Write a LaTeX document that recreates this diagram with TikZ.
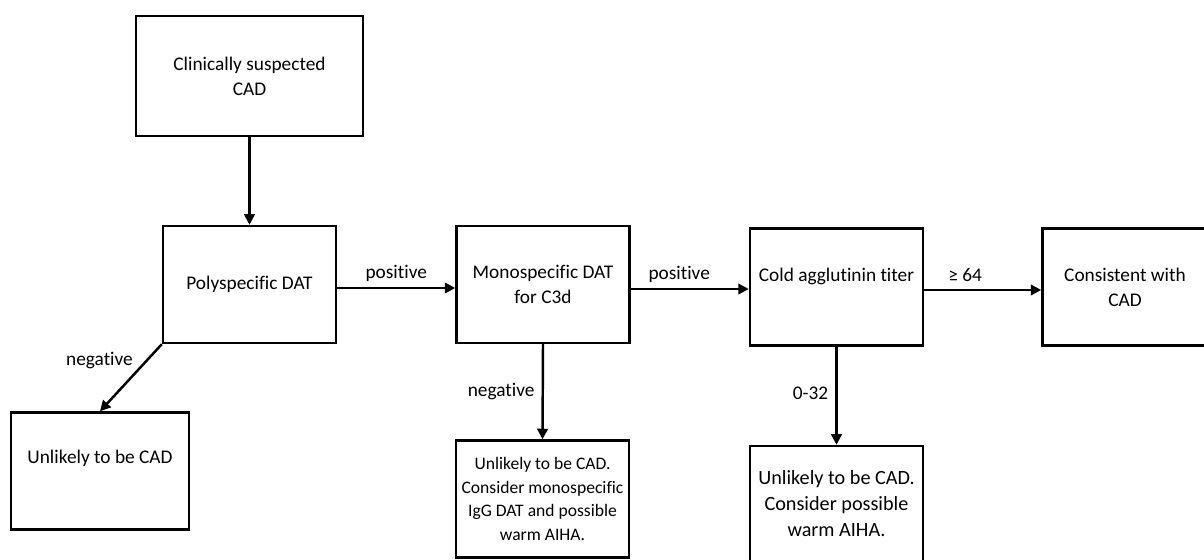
\documentclass[tikz,border=0pt]{standalone}
\usepackage{fontspec}
\setmainfont{Carlito}[Ligatures={NoCommon}]
\usetikzlibrary{arrows.meta, positioning}

\begin{document}
\begin{tikzpicture}[x=0.02cm, y=-0.02cm,
  box/.style={rectangle, draw=black, line width=1.4pt, fill=white,
              font=\fontsize{11}{14.2}\selectfont, align=center,
              minimum width=3.46cm, minimum height=2.34cm, inner sep=2pt},
  lbl/.style={font=\fontsize{11}{14.2}\selectfont, inner sep=1pt},
  arr/.style={-{Triangle[length=6pt, width=6pt]}, line width=1.4pt}
]
\useasboundingbox (0,0) rectangle (1204,560);

% Start
\node[box, minimum width=4.54cm, minimum height=2.4cm] (suspect) at (249.5,76) {Clinically suspected\\CAD};

% Main row
\node[box] (poly) at (249.5,284.5) {Polyspecific DAT};
\node[box] (mono) at (543,284.5) {Monospecific DAT\\for C3d};
\node[box, text depth=0.5cm] (cold) at (836.5,287) {Cold agglutinin titer};
\node[box, minimum width=3.3cm] (consistent) at (1125,287) {Consistent with\\CAD};

% Outcomes
\node[box, minimum width=3.56cm, text depth=0.58cm] (unlikelyA) at (100,471) {Unlikely to be CAD};
\node[box, font=\fontsize{10}{13.4}\selectfont] (unlikelyB) at (542.5,499) {Unlikely to be CAD.\\Consider monospecific\\IgG DAT and possible\\warm AIHA.};
\node[box, minimum height=2.32cm, font=\fontsize{11.5}{14.8}\selectfont] (unlikelyC) at (836.5,504) {Unlikely to be CAD.\\Consider possible\\warm AIHA.};

% Arrows
\draw[arr] (suspect.south) -- (poly.north);
\draw[arr] (poly.east |- 0,288) -- node[lbl, above=2pt] {positive} (mono.west |- 0,288);
\draw[arr] (mono.east |- 0,289) -- node[lbl, above=2pt, xshift=-6pt] {positive} (cold.west |- 0,289);
\draw[arr] (cold.east |- 0,290) -- node[lbl, above=3pt, xshift=-10pt] {≥ 64} (consistent.west |- 0,290);
\draw[arr] (poly.south west) -- node[lbl, left=6pt, pos=0.25] {negative} (unlikelyA.north);
\draw[arr] (mono.south) -- node[lbl, left=3pt, pos=0.5] {negative} (unlikelyB.north);
\draw[arr] (cold.south) -- node[lbl, left=3pt, pos=0.48] {0-32} (unlikelyC.north);
\end{tikzpicture}
\end{document}
